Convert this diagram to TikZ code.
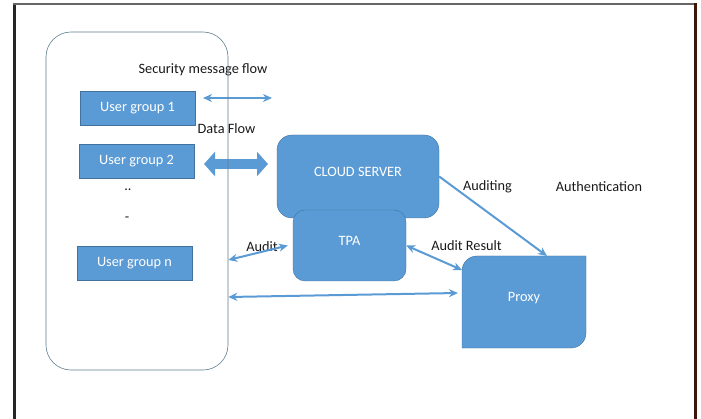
\documentclass[tikz,border=0pt]{standalone}
\usepackage{fontspec}
\setmainfont{Carlito}
\usepackage{tikz}
\usetikzlibrary{arrows.meta,backgrounds}
\definecolor{boxblue}{HTML}{5B9BD5}
\definecolor{boxedge}{HTML}{41719C}
\definecolor{userline}{HTML}{5E7E8E}
\definecolor{rimbrown}{HTML}{3F1509}
\tikzset{
  ugroup/.style={draw=boxedge, fill=boxblue, text=white, minimum width=115pt, minimum height=34pt, inner sep=0pt},
  bigbox/.style={draw=boxedge, fill=boxblue, text=white, inner sep=0pt, text depth=9pt},
  flowarrow/.style={draw=boxblue, line width=2pt, {Stealth[length=9pt,width=8pt]}-{Stealth[length=9pt,width=8pt]}},
  auditarrow/.style={draw=boxblue, line width=2pt, -{Stealth[length=9pt,width=8pt]}},
  lbl/.style={text=black!90, inner sep=0pt},
}

\begin{document}
\begin{tikzpicture}[x=1pt, y=-1pt, font=\fontsize{14.3}{17}\selectfont]
        \useasboundingbox (0,0) rectangle (701,419);
        %%Frame
        \draw[line width=3pt, black!85] (14,3) -- (14,419);
        \draw[line width=2pt, black!60] (13,4) -- (696,4);
        \draw[line width=3pt, rimbrown] (695,3) -- (695,419);
        %%Flows beside the user groups
        \coordinate (smfL) at (203,98);
        \coordinate (smfR) at (272,98);
        \draw[flowarrow] (smfL) -- (smfR);
        \coordinate (dfL) at (204,164);
        \coordinate (dfR) at (268,164);
        \draw[boxblue, line width=10pt, {Triangle[length=11pt,width=24pt]}-{Triangle[length=11pt,width=24pt]}] (dfL) -- (dfR);
        \node[lbl] (smflabel) at (203,70) {Security message flow};
        \node[lbl] (dflabel) at (226.5,129) {Data Flow};
        %%User groups
        \node[draw=userline, line width=0.6pt, rounded corners=25pt, minimum width=182pt, minimum height=338pt] (users) at (137,201) {};
        \node[ugroup] (ug1) at (137.5,108) {User group 1};
        \node[ugroup] (ug2) at (136.5,161) {User group 2};
        \node[lbl] (dots) at (128,190) {..};
        \node[lbl] (dash) at (127,219) {-};
        \node[ugroup] (ugn) at (134.5,263) {User group n};
        %%Cloud server, TPA and proxy
        \node[bigbox, rounded corners=15pt, minimum width=162pt, minimum height=83pt] (cloud) at (358,176.5) {CLOUD SERVER};
        \node[bigbox, rounded corners=12pt, minimum width=113pt, minimum height=71pt] (tpa) at (349.5,245.5) {TPA};
        \node[text=white, inner sep=0pt, outer sep=0pt, text depth=10pt, minimum width=124pt, minimum height=92pt] (proxy) at (524,302) {Proxy};
        \begin{scope}[on background layer]
        \filldraw[draw=boxedge, fill=boxblue] (proxy.south west) -- ([yshift=-15pt]proxy.north west) arc[start angle=180, end angle=90, radius=15pt] -- (proxy.north east) -- ([yshift=15pt]proxy.south east) arc[start angle=0, end angle=-90, radius=15pt] -- cycle;
        \end{scope}
        %%Auditing
        \draw[auditarrow] (cloud.east) -- ([xshift=23pt]proxy.north);
        \node[lbl] (auditing) at (487.5,187) {Auditing};
        \node[lbl] (authlabel) at (599,187) {Authentication};
        \draw[flowarrow] (tpa.east) -- ([yshift=-14pt]proxy.north west);
        \node[lbl] (resultlabel) at (466.5,246) {Audit Result};
        \node[lbl] (auditlabel) at (262,247) {Audit};
        \draw[flowarrow] ([yshift=-59pt]users.east) -- ([xshift=-5pt]tpa.west);
        \draw[flowarrow] ([yshift=-96pt]users.east) -- ([xshift=-4pt,yshift=9pt]proxy.west);
    \end{tikzpicture}
\end{document}
